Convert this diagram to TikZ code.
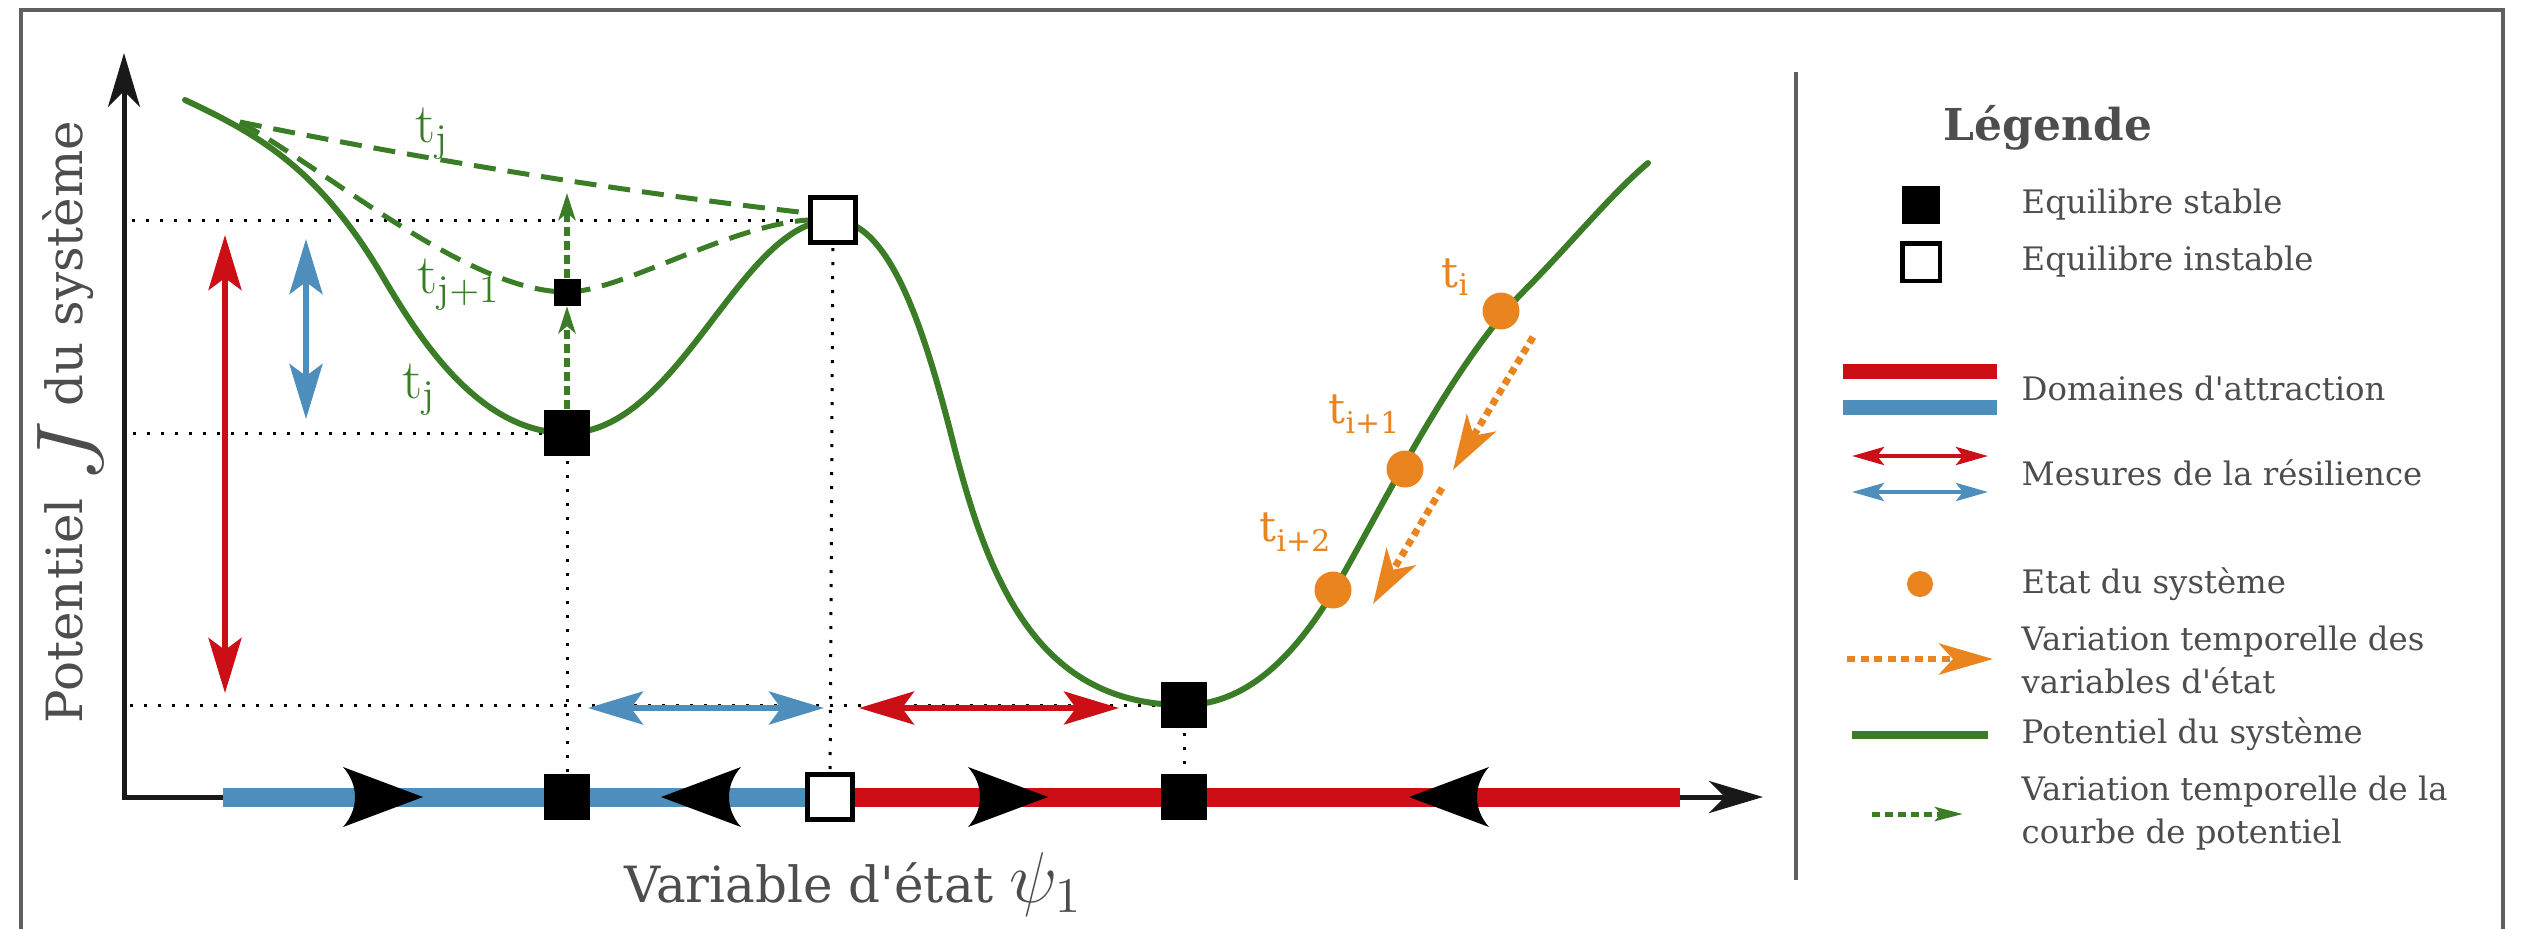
\documentclass[tikz,border=0pt]{standalone}
\usepackage{graphicx}
\usepackage{fontspec}
\newfontfamily\dvs{DejaVu Serif}
\usetikzlibrary{arrows.meta}
\definecolor{cgreen}{RGB}{58,125,38}
\definecolor{cred}{RGB}{204,14,22}
\definecolor{cblue}{RGB}{78,142,188}
\definecolor{corange}{RGB}{234,132,30}
\definecolor{ctext}{RGB}{77,77,77}
\definecolor{cframe}{RGB}{95,95,95}
\tikzset{
 barhead/.pic={\fill[black] (40,0) -- (-40,-30) .. controls (-24,-12) and (-24,12) .. (-40,30) -- cycle;},
}
\begin{document}
\begin{tikzpicture}[x=0.1mm,y=-0.1mm,
 stablesq/.style={rectangle,fill=black,inner sep=0pt,minimum size=4.6mm},
 unstablesq/.style={rectangle,draw=black,fill=white,line width=0.5mm,inner sep=0pt,minimum size=4.5mm},
 smallsq/.style={rectangle,fill=black,inner sep=0pt,minimum size=2.7mm},
 statedot/.style={circle,fill=corange,inner sep=0pt,minimum size=3.7mm},
 dotline/.style={line width=0.3mm,dash pattern=on 0.3mm off 1.1mm},
 potcurve/.style={cgreen,line width=0.6mm,line cap=round},
 oldcurve/.style={cgreen,line width=0.5mm,dash pattern=on 2.2mm off 1.2mm},
 resil/.style={line width=0.55mm,{Stealth[length=5.5mm,width=3.3mm,inset=1.2mm]}-{Stealth[length=5.5mm,width=3.3mm,inset=1.2mm]}},
 legresil/.style={line width=0.45mm,{Stealth[length=3.2mm,width=1.8mm,inset=0.7mm]}-{Stealth[length=3.2mm,width=1.8mm,inset=0.7mm]}},
 axisline/.style={line width=0.5mm,black!90,{Stealth[length=5.4mm,width=3.2mm,inset=1.6mm]}-{Stealth[length=5.4mm,width=3.2mm,inset=1.6mm]}},
 attrbar/.style={line width=1.9mm},
 statevar/.style={corange,line width=0.7mm,dash pattern=on 0.7mm off 0.5mm,-{Stealth[length=5.5mm,width=3.4mm,inset=1.5mm]}},
 potvar/.style={cgreen,line width=0.65mm,dash pattern=on 0.9mm off 0.5mm,-{Stealth[length=2.7mm,width=1.7mm,inset=0.7mm]}},
 legpotvar/.style={cgreen,line width=0.5mm,dash pattern=on 0.8mm off 0.5mm,-{Stealth[length=2.8mm,width=1.4mm,inset=0.6mm]}},
 legtext/.style={inner sep=0pt,text=ctext,anchor=base west,font=\dvs\fontsize{9.2}{12}\selectfont},
 glab/.style={inner sep=0pt,text=cgreen,anchor=base west,font=\fontsize{16}{16}\selectfont},
 olab/.style={inner sep=0pt,text=corange,anchor=base west,font=\dvs\fontsize{12}{12}\selectfont},
]
\useasboundingbox (0,0) rectangle (2529,928);
% frame
\draw[cframe,line width=0.4mm] (21,960) -- (21,10) -- (2503,10) -- (2503,960);

% dotted guide lines
\coordinate (hl1) at (132,220);
\coordinate (hl2) at (133,433);
\coordinate (hl3) at (130,705);
\coordinate (mA) at (567,433);
\coordinate (pk) at (833,220);
\coordinate (mB) at (1184,705);
\coordinate (xa) at (567,797);
\coordinate (xp) at (830,797);
\coordinate (xb) at (1184,797);
\draw[dotline] (hl1) -- (pk);
\draw[dotline] (hl2) -- (mA);
\draw[dotline] (hl3) -- (mB);
\draw[dotline] (mA) -- (xa);
\draw[dotline] (pk) -- (xp);
\draw[dotline] (mB) -- (xb);

% axes
\coordinate (xend) at (1763,797);
\coordinate (orig) at (124,797);
\coordinate (yend) at (124,53);
\draw[axisline] (xend) -- (orig) -- (yend);

% domains of attraction
\coordinate (db0) at (223,797);
\coordinate (dr1) at (1680,797);
\draw[attrbar,cblue] (db0) -- (xp);
\draw[attrbar,cred] (xp) -- (dr1);
\pic at (383,797) {barhead};
\pic[rotate=180] at (701,797) {barhead};
\pic at (1008,797) {barhead};
\pic[rotate=180] at (1449,797) {barhead};

% resilience measures
\coordinate (rv1) at (225,235); \coordinate (rv2) at (225,693);
\coordinate (bv1) at (306,239); \coordinate (bv2) at (306,419);
\coordinate (bh1) at (588,708); \coordinate (bh2) at (824,708);
\coordinate (rh1) at (859,708); \coordinate (rh2) at (1119,708);
\draw[resil,cred] (rv1) -- (rv2);
\draw[resil,cblue] (bv1) -- (bv2);
\draw[resil,cblue] (bh1) -- (bh2);
\draw[resil,cred] (rh1) -- (rh2);

% potential curves
\coordinate (c0) at (185,100);
\coordinate (c9) at (1648,163);
\coordinate (d0) at (240,122);
\coordinate (mS) at (567,292);
\coordinate (pkL) at (808,213);
\coordinate (pkL2) at (808,220);
\draw[oldcurve] (d0) .. controls (400,155) and (620,192) .. (pkL);
\draw[oldcurve] (d0) .. controls (335,176) and (470,292) .. (mS) .. controls (620,292) and (730,225) .. (pkL2);
\draw[potcurve] (c0) .. controls (260,135) and (320,170) .. (383,277)
 .. controls (420,340) and (480,433) .. (mA)
 .. controls (680,433) and (740,220) .. (pk)
 .. controls (890,220) and (925,330) .. (955,450)
 .. controls (990,585) and (1040,705) .. (mB)
 .. controls (1250,705) and (1300,650) .. (1340,580)
 .. controls (1390,492) and (1450,370) .. (1520,295)
 .. controls (1570,245) and (1610,195) .. (c9);

% equilibria
\node[stablesq] (sA) at (mA) {};
\node[unstablesq] (uP) at (pk) {};
\node[smallsq] (sm) at (mS) {};
\node[stablesq] (sB) at (mB) {};
\node[stablesq] (xA) at (xa) {};
\node[unstablesq] (xP) at (xp) {};
\node[stablesq] (xB) at (xb) {};

% temporal change of potential curve
\coordinate (gtip) at (567,193);
\draw[potvar] (sA.north) -- (sm.south);
\draw[potvar] (sm.north) -- (gtip);

% green labels
\node[glab] (lt1) at (415,142) {$\mathrm{t}_{\mathrm{j}}$};
\node[glab] (lt2) at (417,293) {$\mathrm{t}_{\mathrm{j+1}}$};
\node[glab] (lt3) at (402,398) {$\mathrm{t}_{\mathrm{j}}$};

% system states
\node[statedot] (e1) at (1501,311) {};
\node[statedot] (e2) at (1405,469) {};
\node[statedot] (e3) at (1333,590) {};
\coordinate (o1a) at (1533,337); \coordinate (o1b) at (1453,470);
\coordinate (o2a) at (1442,488); \coordinate (o2b) at (1373,604);
\draw[statevar] (o1a) -- (o1b);
\draw[statevar] (o2a) -- (o2b);
\node[olab] (ti) at (1441,287) {t\raisebox{-0.8mm}{\fontsize{8.5}{8.5}\selectfont i}};
\node[olab] (ti1) at (1328,423) {t\raisebox{-1mm}{\fontsize{8.5}{8.5}\selectfont i+1}};
\node[olab] (ti2) at (1259,541) {t\raisebox{-1mm}{\fontsize{8.5}{8.5}\selectfont i+2}};

% axis labels
\node[inner sep=0pt,text=ctext,rotate=90,anchor=base,font=\dvs\fontsize{14.2}{16}\selectfont] (ylab) at (82,422)
 {Potentiel \raisebox{-2mm}{\scalebox{1.88}{$J$}} du système};
\node[inner sep=0pt,text=ctext,anchor=base west,font=\dvs\fontsize{14.2}{16}\selectfont] (xlab) at (624,902)
 {Variable d'état \scalebox{1.42}{$\psi_1$}};

% legend
\coordinate (lg1) at (1796,72); \coordinate (lg2) at (1796,880);
\draw[cframe,line width=0.35mm] (lg1) -- (lg2);
\node[inner sep=0pt,text=ctext,anchor=base,font=\dvs\bfseries\fontsize{12.5}{14}\selectfont] (ltitle) at (2048,140) {Légende};
\node[rectangle,fill=black,inner sep=0pt,minimum size=3.75mm] (ls1) at (1921,205) {};
\node[legtext] (lt-s) at (2021,213) {Equilibre stable};
\node[rectangle,draw=black,fill=white,line width=0.45mm,inner sep=0pt,minimum size=3.75mm] (ls2) at (1921,262) {};
\node[legtext] (lt-u) at (2021,270) {Equilibre instable};
\coordinate (lr1) at (1843,371); \coordinate (lr2) at (1997,371);
\coordinate (lb1) at (1843,407); \coordinate (lb2) at (1997,407);
\draw[cred,line width=1.5mm] (lr1) -- (lr2);
\draw[cblue,line width=1.5mm] (lb1) -- (lb2);
\node[legtext] (lt-d) at (2021,400) {Domaines d'attraction};
\coordinate (la1) at (1852,456); \coordinate (la2) at (1988,456);
\coordinate (la3) at (1852,492); \coordinate (la4) at (1988,492);
\draw[legresil,cred] (la1) -- (la2);
\draw[legresil,cblue] (la3) -- (la4);
\node[legtext] (lt-m) at (2021,485) {Mesures de la résilience};
\node[circle,fill=corange,inner sep=0pt,minimum size=2.6mm] (ldot) at (1920,584) {};
\node[legtext] (lt-e) at (2021,593) {Etat du système};
\coordinate (lo1) at (1847,659); \coordinate (lo2) at (1993,659);
\draw[corange,line width=0.65mm,dash pattern=on 0.8mm off 0.55mm,-{Stealth[length=5.4mm,width=3.1mm,inset=1.4mm]}] (lo1) -- (lo2);
\node[legtext] (lt-v1) at (2021,650) {Variation temporelle des};
\node[legtext] (lt-v2) at (2021,693) {variables d'état};
\coordinate (lp1) at (1852,735); \coordinate (lp2) at (1988,735);
\draw[cgreen,line width=0.8mm] (lp1) -- (lp2);
\node[legtext] (lt-p) at (2021,743) {Potentiel du système};
\coordinate (lg3) at (1872,814); \coordinate (lg4) at (1963,814);
\draw[legpotvar] (lg3) -- (lg4);
\node[legtext] (lt-c1) at (2021,800) {Variation temporelle de la};
\node[legtext] (lt-c2) at (2021,843) {courbe de potentiel};
\end{tikzpicture}
\end{document}
